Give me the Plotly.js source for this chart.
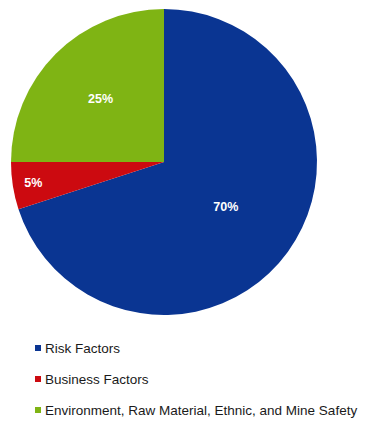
<!DOCTYPE html>
<html>
<head>
<meta charset="utf-8">
<script src="https://cdn.plot.ly/plotly-3.0.1.min.js"></script>
<style>html,body{margin:0;padding:0;background:#fff;}#chart{width:365px;height:421px;}</style>
</head>
<body>
<div id="chart"></div>
<script>
const categories = ["Risk Factors", "Business Factors", "Environment, Raw Material, Ethnic, and Mine Safety"];
const values = [70, 5, 25];
const colors = ["#0a3592", "#cc0a10", "#7fb414"];

const W = 365, H = 421;
const legendTop = 348, legendGap = 31;

const shapes = [];
const annotations = [];
categories.forEach((c, i) => {
  const yc = legendTop + i * legendGap;
  shapes.push({
    type: "rect", xref: "paper", yref: "paper",
    x0: 35 / W, x1: 41 / W, y0: 1 - (yc + 3) / H, y1: 1 - (yc - 3) / H,
    fillcolor: colors[i], line: {width: 0}
  });
  annotations.push({
    xref: "paper", yref: "paper", x: 43 / W, y: 1 - yc / H,
    xanchor: "left", yanchor: "middle", showarrow: false,
    text: c, font: {family: "Arial, Liberation Sans, sans-serif", size: 13.5, color: "#1a1a1a"}
  });
});

const data = [{
  type: "pie",
  labels: categories,
  values: values,
  sort: false,
  direction: "clockwise",
  rotation: 0,
  marker: {colors: colors, line: {width: 0}},
  textinfo: "percent",
  textposition: "inside",
  insidetextorientation: "horizontal",
  textfont: {family: "Arial, Liberation Sans, sans-serif", size: 12.5, color: "#ffffff", weight: "bold"},
  domain: {x: [11 / W, 317 / W], y: [1 - 315 / H, 1 - 9 / H]},
  showlegend: false,
  hoverinfo: "none"
}];

const layout = {
  width: W, height: H,
  margin: {l: 0, r: 0, t: 0, b: 0},
  paper_bgcolor: "#ffffff",
  showlegend: false,
  shapes: shapes,
  annotations: annotations
};

Plotly.newPlot("chart", data, layout, {staticPlot: true});
</script>
</body>
</html>
